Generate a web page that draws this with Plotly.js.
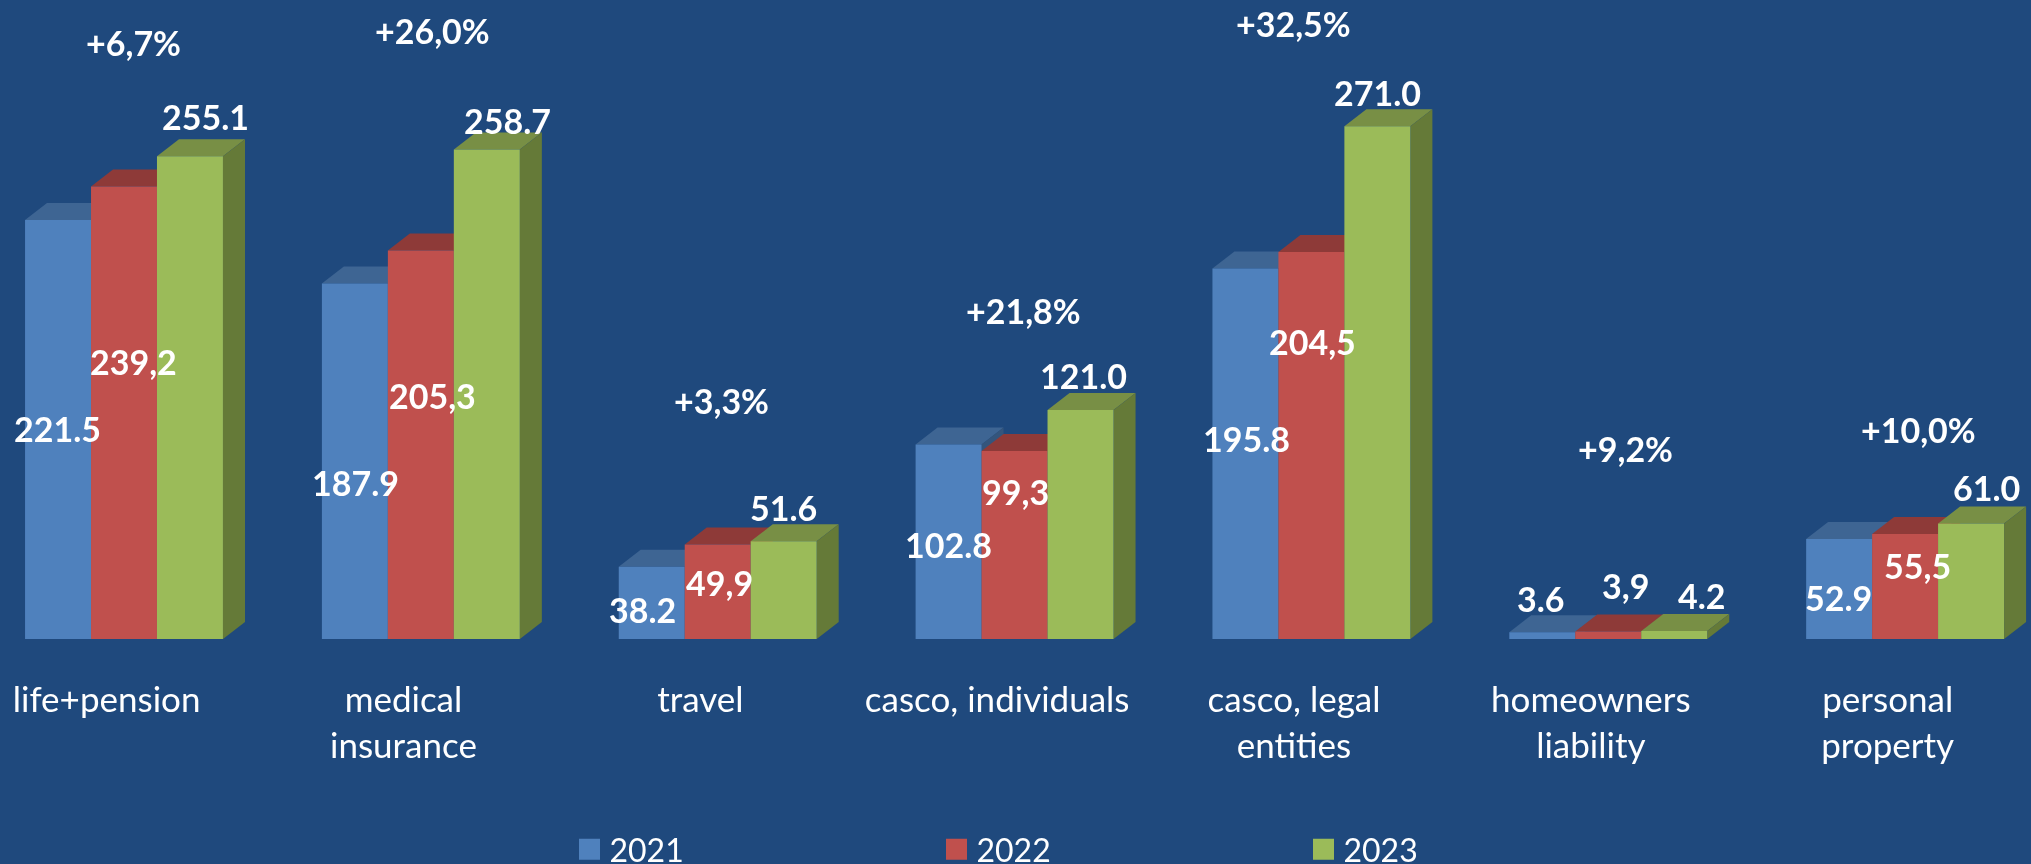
<!DOCTYPE html>
<html>
<head>
<meta charset="utf-8">
<script src="https://cdn.plot.ly/plotly-3.0.1.min.js"></script>
<style>html,body{margin:0;padding:0;background:#1F497D;overflow:hidden}#chart{filter:blur(0.5px)}</style>
</head>
<body>
<div id="chart" style="width:2031px;height:864px"></div>
<script>
const categories = ["life+pension","medical<br>insurance","travel","casco, individuals","casco, legal<br>entities","homeowners<br>liability","personal<br>property"];
const years = ["2021","2022","2023"];
const values2021 = [221.5,187.9,38.2,102.8,195.8,3.6,52.9];
const values2022 = [239.2,205.3,49.9,99.3,204.5,3.9,55.5];
const values2023 = [255.1,258.7,51.6,121.0,271.0,4.2,61.0];
const labels2021 = ["221.5","187.9","38.2","102.8","195.8","3.6","52.9"];
const labels2022 = ["239,2","205,3","49,9","99,3","204,5","3,9","55,5"];
const labels2023 = ["255.1","258.7","51.6","121.0","271.0","4.2","61.0"];
const growth = ["+6,7%","+26,0%","+3,3%","+21,8%","+32,5%","+9,2%","+10,0%"];

// label placement (pixels on the 2031x864 page)
const pos2021 = [[57.4,428],[355,482],[642.5,609],[948,544],[1246,438],[1541,598],[1838,597]];
const pos2022 = [[133,361],[432.4,396],[719,582],[1015.5,491],[1312,341],[1625.6,585],[1917.6,565]];
const pos2023 = [[205.7,117],[507.8,121],[783.6,508],[1083,375],[1377,92],[1702,595],[1986,487]];
const posGrowth = [[133,42],[432.4,30.5],[721.5,400.5],[1023,310],[1293,23.6],[1625.6,448.3],[1918,429]];

const W = 2031, H = 864, baseY = 639, unitX = 296.85, firstX = 124, pxPerValue = 1.892;
const depthX = 22 / unitX, depthY = 17 / pxPerValue, barW = 66 / unitX;
const idx = categories.map((_, i) => i);
const colors = ["#4F81BD","#C0504D","#9BBB59"];
const topColors = ["#3E6593","#8E3A38","#788F45"];
const sideColors = ["#34557C","#773130","#657A38"];
const series = [values2021, values2022, values2023];

const traces = series.map((vals, s) => ({
  type: "bar", name: years[s], x: idx, y: vals,
  marker: {color: colors[s], line: {width: 0}},
  hoverinfo: "x+y"
}));

const shapes = [];
idx.forEach(i => series.forEach((vals, s) => {
  const x0 = i + (s - 1.5) * barW, x1 = x0 + barW, v = vals[i];
  shapes.push({type:"path", xref:"x", yref:"y", layer:"below", line:{width:0}, fillcolor: topColors[s],
    path:`M${x0},${v}L${x0+depthX},${v+depthY}L${x1+depthX},${v+depthY}L${x1},${v}Z`});
  shapes.push({type:"path", xref:"x", yref:"y", layer:"below", line:{width:0}, fillcolor: sideColors[s],
    path:`M${x1},0L${x1+depthX},${depthY}L${x1+depthX},${v+depthY}L${x1},${v}Z`});
}));

const note = (text, p) => ({text, xref:"paper", yref:"paper", x:p[0]/W, y:1-p[1]/H,
  xanchor:"center", yanchor:"middle", showarrow:false,
  font:{family:"Lato, sans-serif", size:34, color:"#FFFFFF", weight:700}});
const annotations = [];
idx.forEach(i => {
  annotations.push(note(labels2021[i], pos2021[i]));
  annotations.push(note(labels2022[i], pos2022[i]));
  annotations.push(note(labels2023[i], pos2023[i]));
  annotations.push(note(growth[i], posGrowth[i]));
});

const layout = {
  width: W, height: H,
  margin: {l:0, r:0, t:0, b:0, pad:0},
  paper_bgcolor: "#1F497D", plot_bgcolor: "#1F497D",
  barmode: "group", bargap: 1/3, bargroupgap: 0,
  xaxis: {range:[-firstX/unitX,(W-firstX)/unitX], tickmode:"array",
    tickvals: idx.map(i => i - 17.4/unitX), ticktext: categories, ticklen:0, showgrid:false, zeroline:false, showline:false,
    tickfont:{family:"Lato, sans-serif", size:35, color:"#FFFFFF"}, ticklabelstandoff:37, tickangle:0, fixedrange:true},
  yaxis: {domain:[(H-baseY)/H,1], range:[0,baseY/pxPerValue], visible:false, fixedrange:true},
  showlegend:true,
  legend:{orientation:"h", x:569.5/W, xanchor:"left", y:1-800/H, yanchor:"top", entrywidth:322, entrywidthmode:"pixels",
    itemwidth:30, traceorder:"normal", bgcolor:"rgba(0,0,0,0)", borderwidth:0,
    font:{family:"Lato, sans-serif", size:32, color:"#FFFFFF"}},
  shapes, annotations
};
Plotly.newPlot("chart", traces, layout, {displayModeBar:false, staticPlot:true}).then(() => {
  document.querySelectorAll(".legend .legendpoints path").forEach(p => p.setAttribute("d","M10.5,10.5H-10.5V-10.5H10.5Z"));
  const lg = document.querySelector(".legend");
  const m = /translate\(([-\d.]+),\s*([-\d.]+)\)/.exec(lg.getAttribute("transform"));
  lg.setAttribute("transform", `translate(${m[1]},${+m[2]+22})`);
});
</script>
</body>
</html>
